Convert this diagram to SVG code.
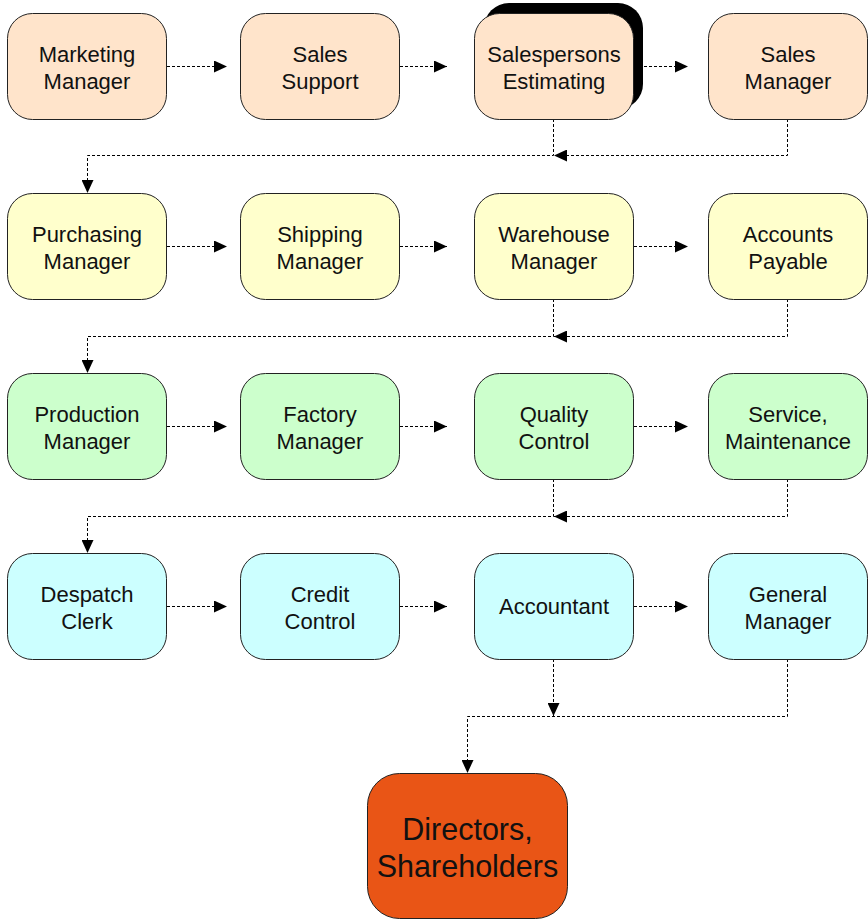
<svg xmlns="http://www.w3.org/2000/svg" width="868" height="922" viewBox="0 0 868 922">
  <style>
    .box { stroke: #222; stroke-width: 1; }
    .r1 { fill: #FFE4CB; }
    .r2 { fill: #FFFFCC; }
    .r3 { fill: #CCFFCC; }
    .r4 { fill: #CCFFFF; }
    .top { fill: #E95516; }
    .lbl { font-family: "Liberation Sans", Arial, sans-serif; font-size: 22px; fill: #111; text-anchor: middle; }
    .big { font-size: 30.5px; }
    .link { fill: none; stroke: #000; stroke-width: 1; stroke-dasharray: 3 2; }
  </style>
  <defs>
    <marker id="arrow" viewBox="0 0 13 12" refX="13" refY="6" markerWidth="13" markerHeight="12" markerUnits="userSpaceOnUse" orient="auto">
      <path d="M0,0 L13,6 L0,12 Z" fill="#000"/>
    </marker>
  </defs>

  <rect width="868" height="922" fill="#fff"/>

  <!-- connectors -->
  <g id="connectors">
    <!-- row 1 -->
    <path class="link" d="M167,66.5 H227" marker-end="url(#arrow)"/>
    <path class="link" d="M400,66.5 H447" marker-end="url(#arrow)"/>
    <path class="link" d="M644,66.5 H688" marker-end="url(#arrow)"/>
    <path class="link" d="M553.5,119 V155.5 H87.5 V193" marker-end="url(#arrow)"/>
    <path class="link" d="M787.5,119 V155.5 H554" marker-end="url(#arrow)"/>
    <!-- row 2 -->
    <path class="link" d="M167,246.5 H227" marker-end="url(#arrow)"/>
    <path class="link" d="M400,246.5 H447" marker-end="url(#arrow)"/>
    <path class="link" d="M634,246.5 H688" marker-end="url(#arrow)"/>
    <path class="link" d="M553.5,299 V336.5 H87.5 V373" marker-end="url(#arrow)"/>
    <path class="link" d="M787.5,299 V336.5 H554" marker-end="url(#arrow)"/>
    <!-- row 3 -->
    <path class="link" d="M167,426.5 H227" marker-end="url(#arrow)"/>
    <path class="link" d="M400,426.5 H447" marker-end="url(#arrow)"/>
    <path class="link" d="M634,426.5 H688" marker-end="url(#arrow)"/>
    <path class="link" d="M553.5,479 V516.5 H87.5 V553" marker-end="url(#arrow)"/>
    <path class="link" d="M787.5,479 V516.5 H554" marker-end="url(#arrow)"/>
    <!-- row 4 -->
    <path class="link" d="M167,606.5 H227" marker-end="url(#arrow)"/>
    <path class="link" d="M400,606.5 H447" marker-end="url(#arrow)"/>
    <path class="link" d="M634,606.5 H688" marker-end="url(#arrow)"/>
    <path class="link" d="M553.5,659 V716" marker-end="url(#arrow)"/>
    <path class="link" d="M787.5,659 V716.5 H467.5 V773" marker-end="url(#arrow)"/>
  </g>

  <!-- row 1 -->
  <g id="marketing-manager">
    <rect class="box r1" x="7.5" y="13.5" width="159" height="106" rx="25"/>
    <text class="lbl" x="87" y="61.5">Marketing</text>
    <text class="lbl" x="87" y="88.5">Manager</text>
  </g>
  <g id="sales-support">
    <rect class="box r1" x="240.5" y="13.5" width="159" height="106" rx="25"/>
    <text class="lbl" x="320" y="61.5">Sales</text>
    <text class="lbl" x="320" y="88.5">Support</text>
  </g>
  <g id="salespersons-estimating">
    <rect x="484" y="3" width="159" height="106" rx="25" fill="#000"/>
    <rect class="box r1" x="474.5" y="13.5" width="159" height="106" rx="25"/>
    <text class="lbl" x="554" y="61.5">Salespersons</text>
    <text class="lbl" x="554" y="88.5">Estimating</text>
  </g>
  <g id="sales-manager">
    <rect class="box r1" x="708.5" y="13.5" width="159" height="106" rx="25"/>
    <text class="lbl" x="788" y="61.5">Sales</text>
    <text class="lbl" x="788" y="88.5">Manager</text>
  </g>

  <!-- row 2 -->
  <g id="purchasing-manager">
    <rect class="box r2" x="7.5" y="193.5" width="159" height="106" rx="25"/>
    <text class="lbl" x="87" y="241.5">Purchasing</text>
    <text class="lbl" x="87" y="268.5">Manager</text>
  </g>
  <g id="shipping-manager">
    <rect class="box r2" x="240.5" y="193.5" width="159" height="106" rx="25"/>
    <text class="lbl" x="320" y="241.5">Shipping</text>
    <text class="lbl" x="320" y="268.5">Manager</text>
  </g>
  <g id="warehouse-manager">
    <rect class="box r2" x="474.5" y="193.5" width="159" height="106" rx="25"/>
    <text class="lbl" x="554" y="241.5">Warehouse</text>
    <text class="lbl" x="554" y="268.5">Manager</text>
  </g>
  <g id="accounts-payable">
    <rect class="box r2" x="708.5" y="193.5" width="159" height="106" rx="25"/>
    <text class="lbl" x="788" y="241.5">Accounts</text>
    <text class="lbl" x="788" y="268.5">Payable</text>
  </g>

  <!-- row 3 -->
  <g id="production-manager">
    <rect class="box r3" x="7.5" y="373.5" width="159" height="106" rx="25"/>
    <text class="lbl" x="87" y="421.5">Production</text>
    <text class="lbl" x="87" y="448.5">Manager</text>
  </g>
  <g id="factory-manager">
    <rect class="box r3" x="240.5" y="373.5" width="159" height="106" rx="25"/>
    <text class="lbl" x="320" y="421.5">Factory</text>
    <text class="lbl" x="320" y="448.5">Manager</text>
  </g>
  <g id="quality-control">
    <rect class="box r3" x="474.5" y="373.5" width="159" height="106" rx="25"/>
    <text class="lbl" x="554" y="421.5">Quality</text>
    <text class="lbl" x="554" y="448.5">Control</text>
  </g>
  <g id="service-maintenance">
    <rect class="box r3" x="708.5" y="373.5" width="159" height="106" rx="25"/>
    <text class="lbl" x="788" y="421.5">Service,</text>
    <text class="lbl" x="788" y="448.5">Maintenance</text>
  </g>

  <!-- row 4 -->
  <g id="despatch-clerk">
    <rect class="box r4" x="7.5" y="553.5" width="159" height="106" rx="25"/>
    <text class="lbl" x="87" y="601.5">Despatch</text>
    <text class="lbl" x="87" y="628.5">Clerk</text>
  </g>
  <g id="credit-control">
    <rect class="box r4" x="240.5" y="553.5" width="159" height="106" rx="25"/>
    <text class="lbl" x="320" y="601.5">Credit</text>
    <text class="lbl" x="320" y="628.5">Control</text>
  </g>
  <g id="accountant">
    <rect class="box r4" x="474.5" y="553.5" width="159" height="106" rx="25"/>
    <text class="lbl" x="554" y="614">Accountant</text>
  </g>
  <g id="general-manager">
    <rect class="box r4" x="708.5" y="553.5" width="159" height="106" rx="25"/>
    <text class="lbl" x="788" y="601.5">General</text>
    <text class="lbl" x="788" y="628.5">Manager</text>
  </g>

  <!-- top of the chain -->
  <g id="directors-shareholders">
    <rect class="box top" x="367.5" y="773.5" width="200" height="145" rx="32"/>
    <text class="lbl big" x="467.5" y="840">Directors,</text>
    <text class="lbl big" x="467.5" y="877">Shareholders</text>
  </g>
</svg>
